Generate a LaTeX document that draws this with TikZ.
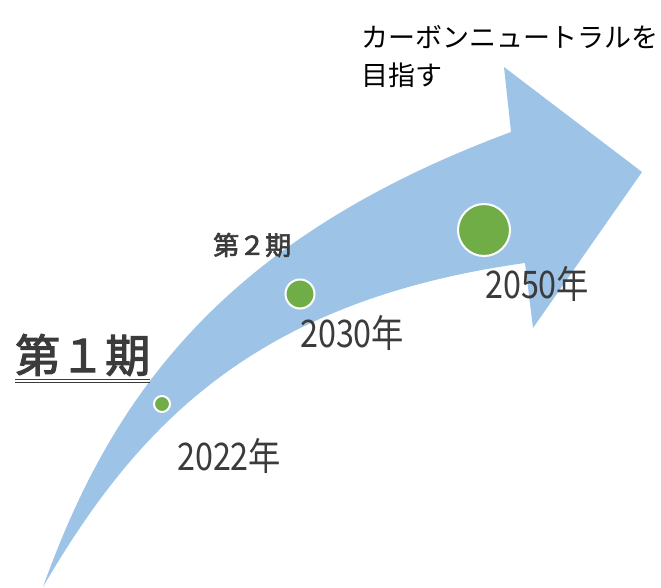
\documentclass[tikz,border=0pt]{standalone}
\usepackage{fontspec}
\newfontfamily\jp{Noto Sans CJK JP}
\newfontfamily\jpb[FakeBold=2.6]{Noto Sans CJK JP}
\definecolor{arrowblue}{HTML}{9DC3E6}
\definecolor{dotgreen}{HTML}{70AD47}
\definecolor{txtgray}{HTML}{3B3B3B}
\tikzset{
  dot/.style={circle, fill=dotgreen, draw=white, line width=2pt, inner sep=0pt},
  yearlabel/.style={anchor=west, inner sep=0pt, text=txtgray, font=\jp\fontsize{38}{40}\selectfont},
  phase/.style={anchor=west, inner sep=0pt, text=txtgray},
  goal/.style={anchor=west, inner sep=0pt, text=black, font=\jp\fontsize{27}{30}\selectfont}
}
\begin{document}
\begin{tikzpicture}[x=1pt,y=-1pt]
\useasboundingbox (0,0) rectangle (661,588);
% curved arrow
\fill[arrowblue] (43,587) .. controls (110,400) and (220,240) .. (511,132)
  -- (504,67) -- (642,172) -- (533,328) -- (525,263)
  .. controls (260,300) and (140,420) .. (43,587) -- cycle;
% milestones
\node[dot, minimum size=16pt] (d2022) at (162,404) {};
\node[dot, minimum size=29pt] (d2030) at (300,294) {};
\node[dot, minimum size=52pt] (d2050) at (484,230) {};
% year labels
\node[yearlabel] (y2022) at (177,456) {\scalebox{0.85}[1]{2022年}};
\node[yearlabel] (y2030) at (300,333) {\scalebox{0.85}[1]{2030年}};
\node[yearlabel] (y2050) at (485,284) {\scalebox{0.85}[1]{2050年}};
% phases
\node[phase, font=\jpb\fontsize{45}{48}\selectfont] (p1) at (15,355) {第１期};
\draw[txtgray, line width=1.6pt] (15,379.5) coordinate (u1a) -- (150,379.5) coordinate (u1b);
\draw[txtgray, line width=0.8pt] (15,382.5) coordinate (u2a) -- (150,382.5) coordinate (u2b);
\node[phase, font=\jpb\fontsize{26}{28}\selectfont] (p2) at (213,245) {第２期};
% goal
\node[goal] (g1) at (361,37) {カーボンニュートラルを};
\node[goal] (g2) at (361,75) {目指す};
\end{tikzpicture}
\end{document}
